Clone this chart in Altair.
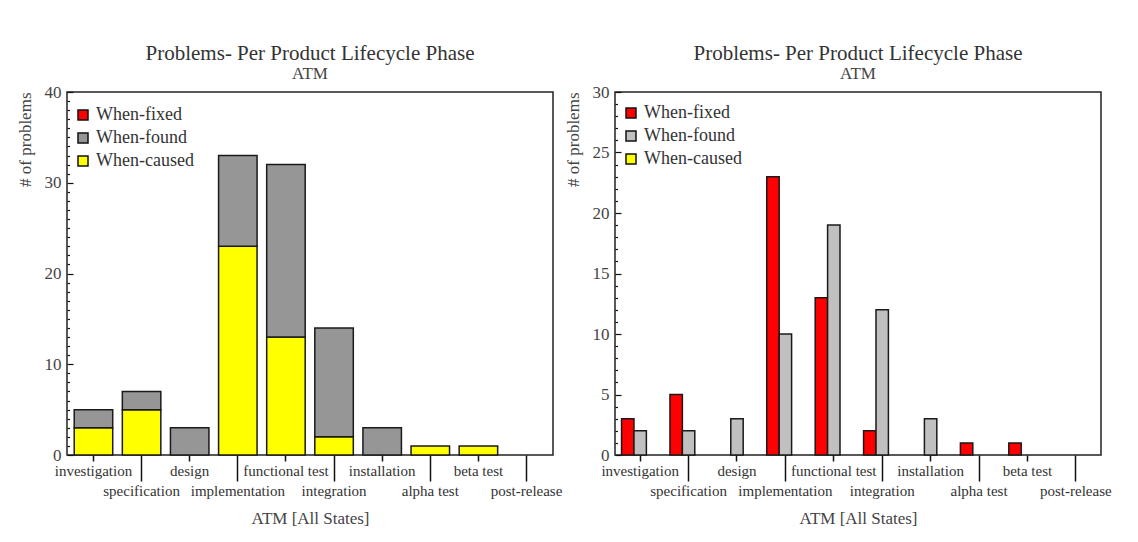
import json
import altair as alt
import pandas as pd

# ---------------- data ----------------
phases = ["investigation", "specification", "design", "implementation",
          "functional test", "integration", "installation", "alpha test",
          "beta test", "post-release"]
when_fixed = [3, 5, 0, 23, 13, 2, 0, 1, 1, 0]
when_found = [2, 2, 3, 10, 19, 12, 3, 0, 0, 0]
when_caused = [3, 5, 0, 23, 13, 2, 0, 1, 1, 0]
series = ["When-fixed", "When-found", "When-caused"]
left_colors = ["#ff0000", "#969696", "#ffff00"]
right_colors = ["#ff0000", "#c0c0c0", "#ffff00"]
left_ticks = [0, 10, 20, 30, 40]
right_ticks = [0, 5, 10, 15, 20, 25, 30]
chart_title = "Problems- Per Product Lifecycle Phase"
chart_subtitle = "ATM"
x_title = "ATM [All States]"
y_title = "# of problems"

FONT = "Liberation Serif"
W, H = 486, 363


def long_table(pairs):
    rows = []
    for name, vals in pairs:
        for p, v in zip(phases, vals):
            if v > 0:
                rows.append({"phase": p, "series": name, "value": v,
                             "rank": series.index(name)})
    return pd.DataFrame(rows)


df_left = long_table([("When-caused", when_caused), ("When-found", when_found)])
df_left["rank"] = df_left["series"].map({"When-caused": 0, "When-found": 1})
df_right = long_table([("When-fixed", when_fixed), ("When-found", when_found)])

odd_test = "indexof(%s, datum.value) >= 0" % json.dumps(phases[1::2])


def x_axis():
    return alt.Axis(
        title=x_title, labelAngle=0, domain=False, grid=False,
        tickSize={"condition": {"test": odd_test, "value": 26}, "value": 6},
        tickColor="#111", tickWidth=1.5, labelPadding=2, labelOverlap=False,
        labelFont=FONT, labelFontSize=15, labelColor="#333",
        titleFont=FONT, titleFontSize=17, titleFontWeight="normal",
        titleColor="#444", titlePadding=12,
    )


def y_axis(ticks):
    return alt.Axis(
        title=y_title, values=ticks, ticks=False, domain=False, grid=False,
        labelPadding=6, labelFont=FONT, labelFontSize=17, labelColor="#444",
        titleFont=FONT, titleFontSize=17, titleFontWeight="normal",
        titleColor="#444", titleAnchor="end", titlePadding=10,
    )


def minor_axis(top, major):
    return alt.Axis(
        orient="right", offset=-W, values=list(range(0, top + 1)),
        labels=False, domain=False, grid=False, title=None,
        tickSize={"condition": {"test": "datum.value %% %d == 0" % major, "value": 6},
                  "value": 2.5},
        tickColor="#111", tickWidth=1.2,
    )


def legend(ly):
    return alt.Legend(
        title=None, orient="none", legendX=7, legendY=ly, values=series,
        symbolType="square", symbolSize=100, symbolStrokeColor="#111",
        symbolStrokeWidth=1.5, labelFont=FONT, labelFontSize=18,
        labelColor="#333", rowPadding=5, labelOffset=4, padding=0,
    )


def title():
    return alt.Title(
        chart_title, subtitle=chart_subtitle, font=FONT, fontSize=21,
        fontWeight="normal", color="#333", subtitleFont=FONT,
        subtitleFontSize=17, subtitleColor="#444", subtitlePadding=2,
        offset=1, anchor="middle",
    )


# ---------------- left: stacked ----------------
ys_left = alt.Scale(domain=[0, 40], nice=False, zero=True)
bars_left = alt.Chart(df_left).mark_bar(stroke="#1a1a1a", strokeWidth=1.5).encode(
    x=alt.X("phase:N", sort=phases,
            scale=alt.Scale(domain=phases, paddingInner=0.2, paddingOuter=0.15),
            axis=x_axis()),
    y=alt.Y("value:Q", stack="zero", scale=ys_left, axis=y_axis(left_ticks)),
    color=alt.Color("series:N",
                    scale=alt.Scale(domain=series, range=left_colors),
                    legend=legend(14)),
    order=alt.Order("rank:Q"),
)
minor_left = alt.Chart(df_left).mark_point(opacity=0).encode(
    y=alt.Y("value:Q", scale=ys_left, axis=minor_axis(40, 10)),
)
left = alt.layer(bars_left, minor_left).resolve_axis(y="independent").properties(
    width=W, height=H, title=title())

# ---------------- right: grouped ----------------
ys_right = alt.Scale(domain=[0, 30], nice=False, zero=True)
bars_right = alt.Chart(df_right).mark_bar(stroke="#1a1a1a", strokeWidth=1.5).encode(
    x=alt.X("phase:N", sort=phases,
            scale=alt.Scale(domain=phases, paddingInner=0, paddingOuter=0.02),
            axis=x_axis()),
    xOffset=alt.XOffset("series:N",
                        scale=alt.Scale(domain=series, paddingInner=0, paddingOuter=0.45)),
    y=alt.Y("value:Q", scale=ys_right, axis=y_axis(right_ticks)),
    color=alt.Color("series:N",
                    scale=alt.Scale(domain=series, range=right_colors),
                    legend=legend(12)),
)
minor_right = alt.Chart(df_right).mark_point(opacity=0).encode(
    y=alt.Y("value:Q", scale=ys_right, axis=minor_axis(30, 5)),
)
right = alt.layer(bars_right, minor_right).resolve_axis(y="independent").properties(
    width=W, height=H, title=title())

chart = alt.hconcat(left, right, spacing=0).resolve_scale(
    color="independent", xOffset="independent"
).properties(
    padding={"left": 15, "top": 42, "right": 0, "bottom": 0},
    background="white",
).configure_view(stroke="#222", strokeWidth=1.5)

chart.save("out.html", embed_options={"renderer": "svg", "actions": False})
